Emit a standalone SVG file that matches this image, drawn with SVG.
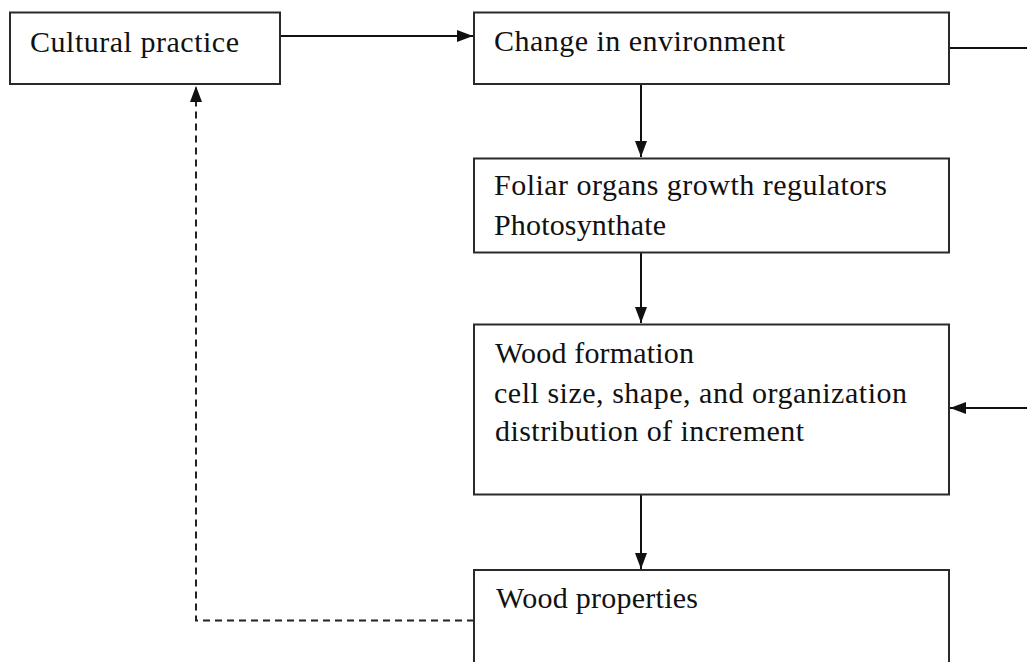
<svg xmlns="http://www.w3.org/2000/svg" width="1027" height="662" viewBox="0 0 1027 662">
<style>
.box{fill:#fff;stroke:#2a2a2a;stroke-width:2}
.t{font-family:"Liberation Serif","Times New Roman",serif;font-size:30px;fill:#111}
.c{fill:none;stroke:#111;stroke-width:2}
.d{fill:none;stroke:#222;stroke-width:2;stroke-dasharray:7,5}
</style>
<defs>
<marker id="ah" viewBox="0 0 16 12" refX="16" refY="6" markerWidth="16" markerHeight="12" markerUnits="userSpaceOnUse" orient="auto">
<path d="M0,0 L16,6 L0,12 Z" fill="#111"/>
</marker>
</defs>
<rect width="1027" height="662" fill="#fff"/>
<g id="connectors">
<line class="c" x1="280" y1="36" x2="473" y2="36" marker-end="url(#ah)"/>
<polyline class="c" points="949,48 1040,48 1040,408 950,408" marker-end="url(#ah)"/>
<line class="c" x1="641" y1="84" x2="641" y2="157" marker-end="url(#ah)"/>
<line class="c" x1="641" y1="252" x2="641" y2="323" marker-end="url(#ah)"/>
<line class="c" x1="641" y1="494" x2="641" y2="569" marker-end="url(#ah)"/>
<polyline class="d" points="474,620.5 196,620.5 196,86" marker-end="url(#ah)"/>
</g>
<g id="cultural-practice">
<rect class="box" x="10" y="12.5" width="270" height="71.5"/>
<text class="t" x="30" y="52" textLength="209">Cultural practice</text>
</g>
<g id="change-in-environment">
<rect class="box" x="474" y="12.5" width="475" height="71.5"/>
<text class="t" x="494" y="51" textLength="291">Change in environment</text>
</g>
<g id="foliar-organs">
<rect class="box" x="474" y="158.5" width="475" height="94"/>
<text class="t" x="494" y="195" textLength="393">Foliar organs growth regulators</text>
<text class="t" x="494" y="235" textLength="172">Photosynthate</text>
</g>
<g id="wood-formation">
<rect class="box" x="474" y="324.5" width="475" height="170"/>
<text class="t" x="495" y="362.5" textLength="199">Wood formation</text>
<text class="t" x="494" y="402.5" textLength="413">cell size, shape, and organization</text>
<text class="t" x="495" y="441" textLength="309">distribution of increment</text>
</g>
<g id="wood-properties">
<rect class="box" x="474" y="570" width="475" height="120"/>
<text class="t" x="496" y="607.5" textLength="202">Wood properties</text>
</g>
</svg>
